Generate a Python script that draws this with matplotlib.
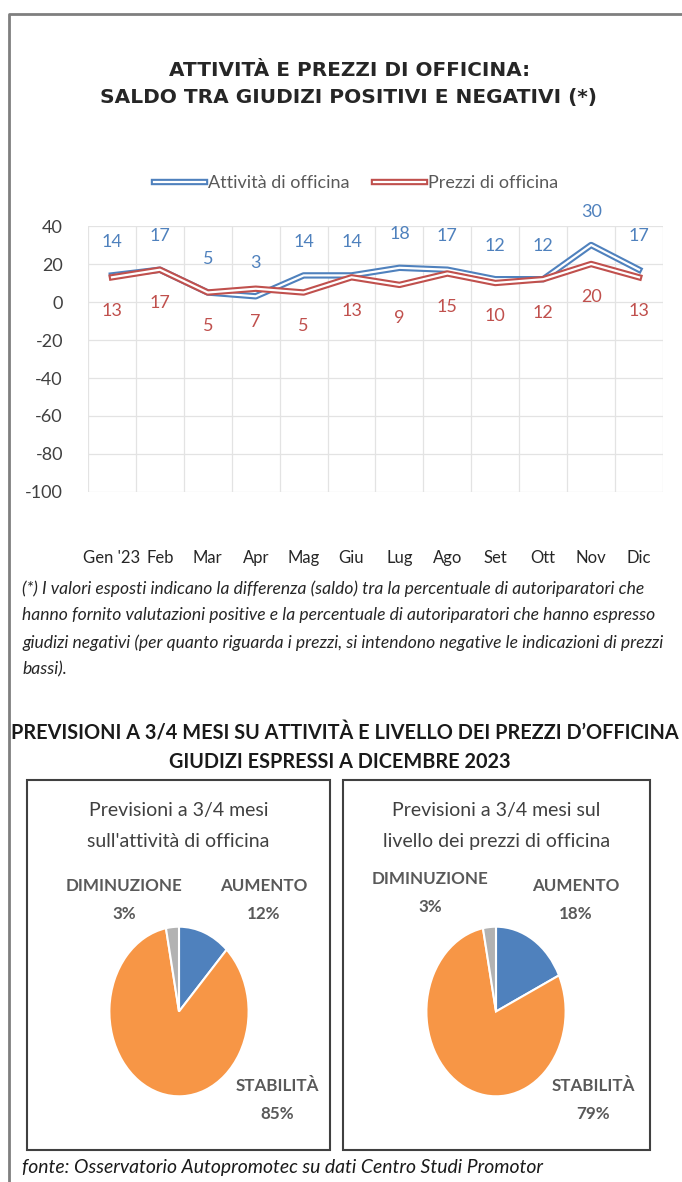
import matplotlib
matplotlib.use('Agg')
import matplotlib.pyplot as plt
import matplotlib.patheffects as pe
from matplotlib import font_manager
from matplotlib.patches import Rectangle
from matplotlib.lines import Line2D
import numpy as np

months = ["Gen '23", 'Feb', 'Mar', 'Apr', 'Mag', 'Giu', 'Lug', 'Ago', 'Set', 'Ott', 'Nov', 'Dic']
attivita = [14, 17, 5, 3, 14, 14, 18, 17, 12, 12, 30, 17]
prezzi = [13, 17, 5, 7, 5, 13, 9, 15, 10, 12, 20, 13]
y_ticks = [-100, -80, -60, -40, -20, 0, 20, 40]

pie_names = ['AUMENTO', 'STABILITÀ', 'DIMINUZIONE']
pie_attivita = [12, 85, 3]
pie_prezzi = [18, 79, 3]

BLUE = '#4f81bd'
RED = '#c0504d'
PIE_COLORS = ['#4f81bd', '#f79646', '#b2b2b2']

names = {f.name for f in font_manager.fontManager.ttflist}
FONT = 'Lato' if 'Lato' in names else 'Liberation Sans'

W, H = 682, 1182
fig = plt.figure(figsize=(W / 100, H / 100), dpi=100)
renderer = fig.canvas.get_renderer()


def fx(x):
    return x / W


def fy(y):
    return 1 - y / H


def fit(t, target):
    # scale the font so the text spans the width measured on the reference
    w = t.get_window_extent(renderer).width
    t.set_fontsize(t.get_fontsize() * target / w)
    return t


# outer frame (left and top edges visible)
fig.add_artist(Line2D([fx(9), fx(9), fx(682)], [fy(1182), fy(14), fy(14)],
                      color='#7f7f7f', lw=2, transform=fig.transFigure))

# ---- line chart ----
t = fig.text(fx(350), fy(70), 'ATTIVITÀ E PREZZI DI OFFICINA:', ha='center', va='center',
             fontsize=10, fontweight='bold', color='#262626', family='DejaVu Sans')
fit(t, 360)
t = fig.text(fx(348), fy(98), 'SALDO TRA GIUDIZI POSITIVI E NEGATIVI (*)', ha='center', va='center',
             fontsize=10, fontweight='bold', color='#262626', family='DejaVu Sans')
fit(t, 498)

ax = fig.add_axes([fx(88), fy(492), (663 - 88) / W, (492 - 226) / H])
x = np.arange(len(months))
ax.plot(x, attivita, color='white', lw=1.6, label='Attività di officina', zorder=3,
        path_effects=[pe.Stroke(linewidth=4.6, foreground=BLUE), pe.Normal()])
ax.plot(x, prezzi, color='white', lw=1.6, label='Prezzi di officina', zorder=4,
        path_effects=[pe.Stroke(linewidth=4.6, foreground=RED), pe.Normal()])

for i, v in enumerate(attivita):
    ax.annotate(str(v), (i, v), xytext=(0, 24), textcoords='offset points', ha='center',
                va='center', color=BLUE, fontsize=13, family=FONT, annotation_clip=False)
for i, v in enumerate(prezzi):
    ax.annotate(str(v), (i, v), xytext=(0, -24), textcoords='offset points', ha='center',
                va='center', color=RED, fontsize=13, family=FONT, annotation_clip=False)

ax.set_xlim(-0.5, len(months) - 0.5)
ax.set_ylim(-100, 40)
ax.set_yticks(y_ticks)
ax.set_yticklabels([str(t) for t in y_ticks], family=FONT, fontsize=13, color='#404040')
ax.set_xticks(x)
ax.set_xticklabels(months, family=FONT, fontsize=12, color='#262626')
ax.set_xticks(np.arange(-0.5, len(months)), minor=True)
ax.tick_params(axis='x', which='both', length=0, pad=42)
ax.tick_params(axis='y', length=0, pad=18)
ax.grid(axis='y', color='#e3e3e3', lw=0.9)
ax.grid(axis='x', which='minor', color='#e3e3e3', lw=0.9)
ax.set_axisbelow(True)
for s in ax.spines.values():
    s.set_visible(False)

leg = fig.legend(loc='center', bbox_to_anchor=(fx(356), fy(183)), ncol=2, frameon=False,
                 handlelength=2.8, columnspacing=1.4, handletextpad=0.15,
                 prop={'family': FONT, 'size': 13})
for t in leg.get_texts():
    t.set_color('#595959')

note_lines = [
    "(*) I valori esposti indicano la differenza (saldo) tra la percentuale di autoriparatori che",
    "hanno fornito valutazioni positive e la percentuale di autoriparatori che hanno espresso",
    "giudizi negativi (per quanto riguarda i prezzi, si intendono negative le indicazioni di prezzi",
    "bassi).",
]
t = fig.text(fx(22), fy(580), note_lines[1], ha='left', va='top', fontsize=11, style='italic',
             family=FONT, color='#262626')
fit(t, 633)
t.set_text('\n'.join(note_lines))
t.set_linespacing(1.82)

# ---- pies ----
t = fig.text(fx(345), fy(733), 'PREVISIONI A 3/4 MESI SU ATTIVITÀ E LIVELLO DEI PREZZI D’OFFICINA',
             ha='center', va='center', fontsize=13, fontweight='bold', family=FONT, color='#1a1a1a')
fit(t, 668)
t2 = fig.text(fx(340), fy(762), 'GIUDIZI ESPRESSI A DICEMBRE 2023',
              ha='center', va='center', fontsize=t.get_fontsize(), fontweight='bold', family=FONT,
              color='#1a1a1a')

boxes = [
    dict(x0=27, x1=330, title="Previsioni a 3/4 mesi\nsull'attività di officina", values=pie_attivita,
         pie=(108, 250), labels=[(264, 900), (277, 1100), (124, 900)]),
    dict(x0=343, x1=650, title="Previsioni a 3/4 mesi sul\nlivello dei prezzi di officina", values=pie_prezzi,
         pie=(425, 567), labels=[(576, 900), (593, 1100), (430, 893)]),
]

probe = fig.text(0, 0, 'livello dei prezzi di officina', fontsize=14, family=FONT)
fit(probe, 228)
title_fs = probe.get_fontsize()
probe.remove()
probe = fig.text(0, 0, 'DIMINUZIONE', fontsize=12, fontweight='bold', family=FONT)
fit(probe, 117)
lab_fs = probe.get_fontsize()
probe.remove()

for b in boxes:
    fig.add_artist(Rectangle((fx(b['x0']), fy(1150)), (b['x1'] - b['x0']) / W, (1150 - 780) / H,
                             transform=fig.transFigure, fill=False, edgecolor='#404040', lw=1.5))
    fig.text(fx((b['x0'] + b['x1']) / 2), fy(826), b['title'], ha='center', va='center',
             fontsize=title_fs, family=FONT, color='#404040', linespacing=1.95)
    p0, p1 = b['pie']
    pax = fig.add_axes([fx(p0), fy(1098), (p1 - p0) / W, (1098 - 925) / H])
    pax.pie(b['values'], colors=PIE_COLORS, startangle=90, counterclock=False,
            wedgeprops=dict(edgecolor='white', linewidth=1.5))
    pax.set_aspect('auto')
    pax.set_xlim(-1.02, 1.02)
    pax.set_ylim(-1.02, 1.02)
    for name, v, (lx, ly) in zip(pie_names, b['values'], b['labels']):
        fig.text(fx(lx), fy(ly), f'{name}\n{v}%', ha='center', va='center', fontsize=lab_fs,
                 fontweight='bold', family=FONT, color='#595959', linespacing=1.9)

t = fig.text(fx(22), fy(1168), 'fonte: Osservatorio Autopromotec su dati Centro Studi Promotor',
             ha='left', va='center', fontsize=12.5, style='italic', family=FONT, color='#1a1a1a')
fit(t, 523)

fig.savefig('out.png', dpi=100)
